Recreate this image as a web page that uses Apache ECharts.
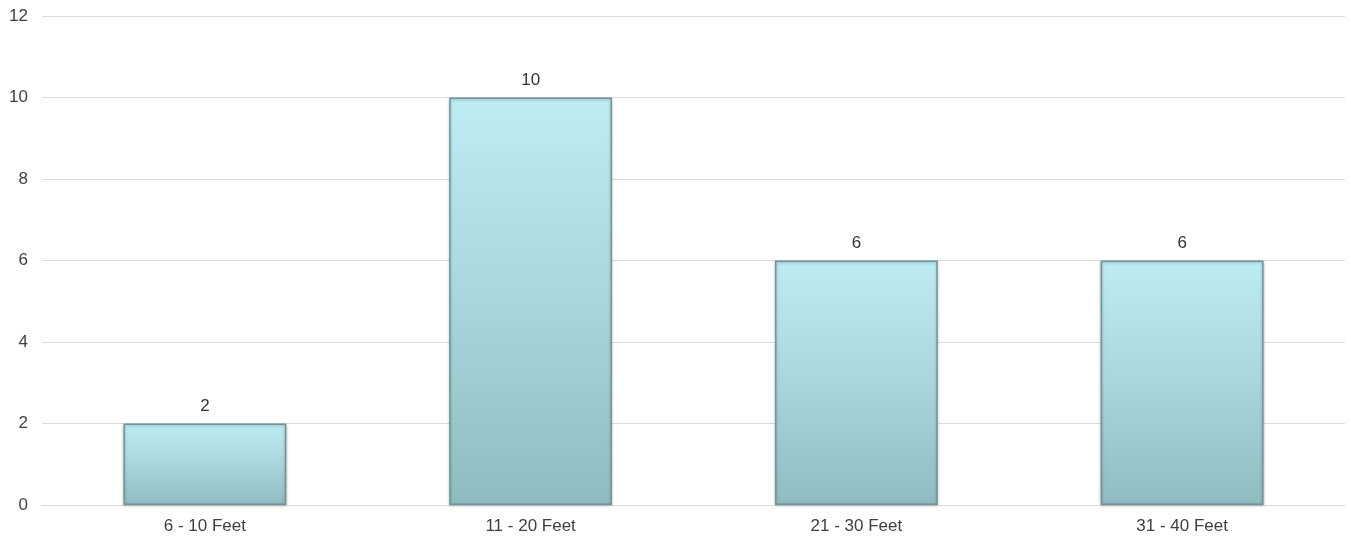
<!DOCTYPE html>
<html><head><meta charset="utf-8">
<script src="https://cdn.jsdelivr.net/npm/echarts@6/dist/echarts.min.js"></script>
<style>html,body{margin:0;padding:0;background:#fff}#c{width:1351px;height:537px}</style>
</head><body><div id="c"></div>
<script>
var categories = ['6 - 10 Feet', '11 - 20 Feet', '21 - 30 Feet', '31 - 40 Feet'];
var values = [2, 10, 6, 6];
var yTicks = [0, 2, 4, 6, 8, 10, 12];

var FONT = 'Liberation Sans, Arial, sans-serif';
var chart = echarts.init(document.getElementById('c'));
chart.setOption({
  animation: false,
  grid: {left: 42, right: 6, top: 16, bottom: 32},
  xAxis: {
    type: 'category', data: categories,
    axisLine: {lineStyle: {color: '#d9d9d9'}},
    axisTick: {show: false},
    axisLabel: {color: '#404040', fontSize: 17, fontFamily: FONT, margin: 13}
  },
  yAxis: {
    type: 'value', min: yTicks[0], max: yTicks[yTicks.length - 1], interval: 2,
    axisLine: {show: false}, axisTick: {show: false},
    axisLabel: {color: '#404040', fontSize: 17, fontFamily: FONT, margin: 14},
    splitLine: {lineStyle: {color: '#dcdcdc'}}
  },
  series: [{
    type: 'bar', data: values, barWidth: '50%',
    itemStyle: {
      color: new echarts.graphic.LinearGradient(0, 0, 0, 1, [
        {offset: 0, color: '#bdecf2'},
        {offset: 0.5, color: '#a9d6dc'},
        {offset: 1, color: '#8fbcc0'}
      ]),
      borderColor: '#719498', borderWidth: 1.5,
      shadowColor: 'rgba(0,0,0,0.25)', shadowBlur: 3, shadowOffsetY: 1
    },
    label: {show: true, position: 'top', distance: 9, color: '#333', fontSize: 17, fontFamily: FONT}
  }]
});
</script></body></html>
